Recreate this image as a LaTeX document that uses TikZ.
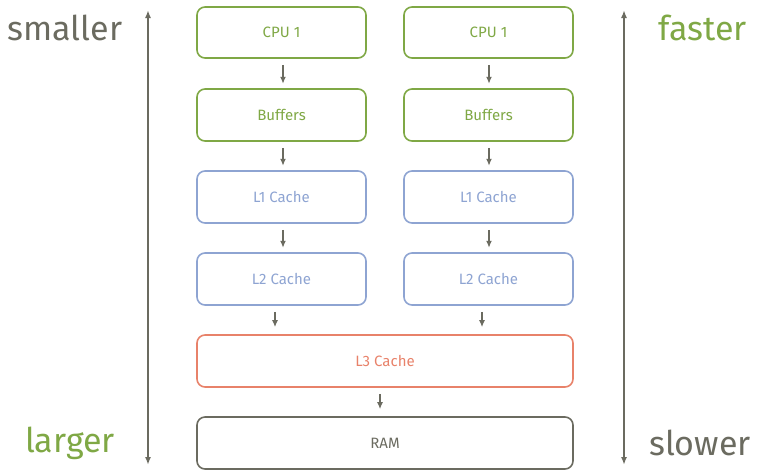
\documentclass[tikz,border=0pt]{standalone}
\usepackage{fontspec}
\setmainfont{Fira Sans}
\usetikzlibrary{arrows.meta}
\definecolor{cg}{HTML}{7FA845}
\definecolor{cb}{HTML}{8EA4D2}
\definecolor{co}{HTML}{E8826A}
\definecolor{cy}{HTML}{6B6B60}
\begin{document}
\begin{tikzpicture}[x=1pt,y=-1pt,
 box/.style={draw,line width=1.6pt,rounded corners=8pt,inner sep=0pt,font=\fontsize{15}{17}\selectfont},
 g/.style={box,cg,text=cg},b/.style={box,cb,text=cb},o/.style={box,co,text=co},r/.style={box,cy,text=cy},
 ar/.style={-{Latex[length=7pt,width=6pt]},cy,line width=1.5pt},
 side/.style={font=\fontsize{34}{38}\selectfont}]
\useasboundingbox (0,0) rectangle (768,475);
\foreach \x/\c in {0/l,207/r}{
 \node[g,minimum width=169pt,minimum height=51pt] (cpu\c) at (281.5+\x,32.5) {CPU 1};
 \node[g,minimum width=169pt,minimum height=52pt] (buf\c) at (281.5+\x,115) {Buffers};
 \node[b,minimum width=169pt,minimum height=52pt] (la\c) at (281.5+\x,197) {L1 Cache};
 \node[b,minimum width=169pt,minimum height=52pt] (lb\c) at (281.5+\x,279) {L2 Cache};
}
\node[o,minimum width=376pt,minimum height=52pt] (l3) at (385,361) {L3 Cache};
\node[r,minimum width=376pt,minimum height=52pt] (ram) at (385,443) {RAM};
\foreach \c/\dx in {l/283,r/489}{
 \draw[ar] (cpu\c.south -| \dx,0) ++(0,6) -- ++(0,19);
 \draw[ar] (buf\c.south -| \dx,0) ++(0,6) -- ++(0,18);
 \draw[ar] (la\c.south -| \dx,0) ++(0,6) -- ++(0,18);
}
\draw[ar] ([yshift=-6pt]lbl.south -| 275,0) -- ([yshift=7pt]l3.north -| 275,0);
\draw[ar] ([yshift=-6pt]lbr.south -| 482,0) -- ([yshift=7pt]l3.north -| 482,0);
\draw[ar] ([yshift=-6pt]l3.south -| 380,0) -- ([yshift=7pt]ram.north -| 380,0);
\coordinate (lt) at (148,10); \coordinate (lbt) at (148,465);
\coordinate (rt) at (624,10); \coordinate (rbt) at (624,465);
\draw[{Latex[length=8pt,width=6pt]}-{Latex[length=8pt,width=6pt]},cy,line width=1.6pt] (lt) -- (lbt);
\draw[{Latex[length=8pt,width=6pt]}-{Latex[length=8pt,width=6pt]},cy,line width=1.6pt] (rt) -- (rbt);
\node[side,text=cy] (sm) at (65,28) {smaller};
\node[side,text=cg] (lg) at (70,443) {larger};
\node[side,text=cg] (fa) at (703,28) {faster};
\node[side,text=cy] (sl) at (700,443) {slower};
\end{tikzpicture}
\end{document}
